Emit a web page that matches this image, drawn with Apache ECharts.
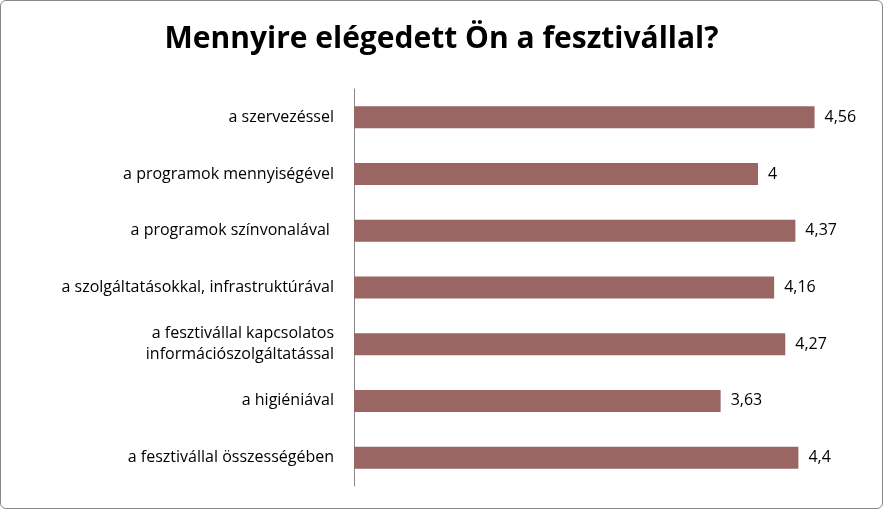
<!DOCTYPE html>
<html><head><meta charset="utf-8">
<script src="https://cdn.jsdelivr.net/npm/echarts@6/dist/echarts.min.js"></script>
<style>html,body{margin:0;padding:0;background:#fff}#c{width:883px;height:509px;box-sizing:border-box;border:1px solid #888;border-radius:6px}</style>
</head><body><div id="c"></div>
<script>
const categories = ["a szervezéssel","a programok mennyiségével","a programok színvonalával ","a szolgáltatásokkal, infrastruktúrával","a fesztivállal kapcsolatos\ninformációszolgáltatással","a higiéniával","a fesztivállal összességében"];
const values = [4.56,4,4.37,4.16,4.27,3.63,4.4];
const chart = echarts.init(document.getElementById('c'));
chart.setOption({
  animation:false,
  title:{text:"Mennyire elégedett Ön a fesztivállal?",left:'center',top:18,textStyle:{fontFamily:'Open Sans',fontSize:30,fontWeight:'bold',color:'#000'}},
  grid:{left:353,top:88,bottom:22,width:505},
  xAxis:{type:'value',min:0,max:5,show:false},
  yAxis:{type:'category',inverse:true,data:categories,axisTick:{show:false},
    axisLine:{lineStyle:{color:'#888'}},
    axisLabel:{margin:20,fontFamily:'Open Sans',fontSize:16,color:'#000',align:'right',lineHeight:21}},
  series:[{type:'bar',data:values,barWidth:22,itemStyle:{color:'#996664'},
    label:{show:true,position:'right',distance:10,fontFamily:'Open Sans',fontSize:16,color:'#000',
      formatter:p=>String(p.value).replace('.',',')}}]
});
</script></body></html>
